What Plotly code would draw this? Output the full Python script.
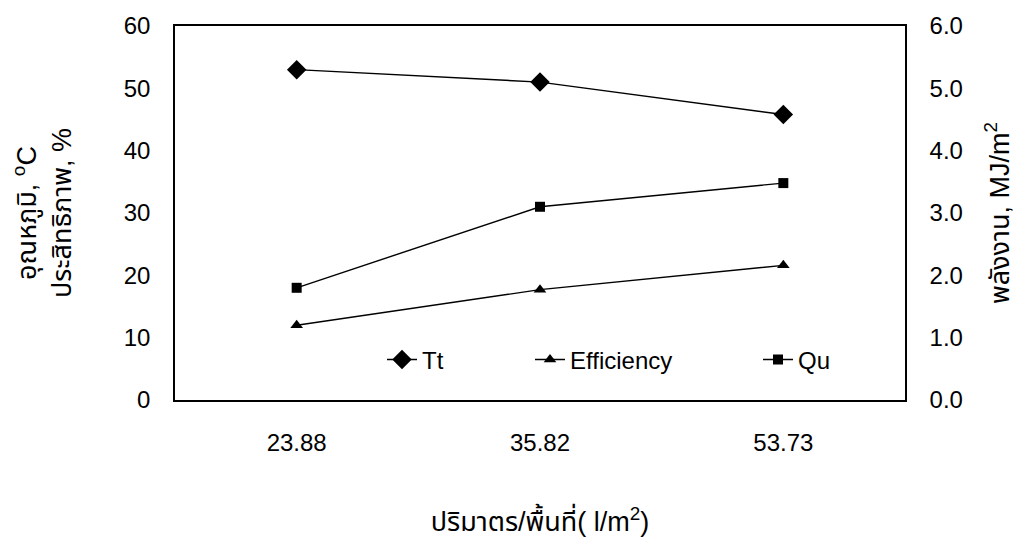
import plotly.graph_objects as go

categories = ["23.88", "35.82", "53.73"]
tt_values = [53.0, 51.0, 45.8]
eff_values = [12.0, 17.7, 21.6]
qu_values = [1.80, 3.10, 3.48]
left_ticks = [0, 10, 20, 30, 40, 50, 60]
right_ticks = [0, 1, 2, 3, 4, 5, 6]

FONT = "Liberation Sans, Arial, Noto Sans Thai, Noto Sans, sans-serif"
W, H = 1028, 544
L, R, T, B = 175, 905, 20, 403

fig = go.Figure()
fig.add_trace(go.Scatter(x=categories, y=tt_values, name="Tt", mode="lines+markers",
                         line=dict(color="black", width=1.4),
                         marker=dict(symbol="diamond", size=15, color="black"),
                         legend="legend"))
fig.add_trace(go.Scatter(x=categories, y=eff_values, name="Efficiency", mode="lines+markers",
                         line=dict(color="black", width=1.4),
                         marker=dict(symbol="triangle-up", size=11, color="black"),
                         legend="legend2"))
fig.add_trace(go.Scatter(x=categories, y=qu_values, name="Qu", mode="lines+markers",
                         line=dict(color="black", width=1.4),
                         marker=dict(symbol="square", size=10, color="black"),
                         yaxis="y2", legend="legend3"))

pw = R - L
ph = B - T
def px(x):
    return (x - L) / pw
def py(y):
    return (B - y) / ph

leg_common = dict(orientation="h", yanchor="middle", xanchor="left",
                  bgcolor="rgba(0,0,0,0)", font=dict(family=FONT, size=24, color="black"),
                  itemwidth=30)
fig.update_layout(
    width=W, height=H,
    margin=dict(l=L, r=W - R, t=T, b=H - B, pad=0),
    paper_bgcolor="white", plot_bgcolor="white",
    font=dict(family=FONT, size=24, color="black"),
    xaxis=dict(type="category", range=[-0.5, 2.5], showline=True, linecolor="black",
               linewidth=1.5, mirror=True, showgrid=False, ticks="",
               ticklabelstandoff=20,
               title=dict(text="ปริมาตร/พื้นที่( l/m<sup>2</sup>)", standoff=58,
                          font=dict(size=27))),
    yaxis=dict(range=[0, 60], tickvals=left_ticks, showline=True, linecolor="black",
               linewidth=1.5, showgrid=False, zeroline=False, ticks="",
               ticklabelstandoff=18,
               title=dict(text="อุณหภูมิ, <sup>o</sup>C<br>ประสิทธิภาพ, %", standoff=44,
                          font=dict(size=27))),
    yaxis2=dict(range=[0, 6], tickvals=right_ticks, tickformat=".1f", overlaying="y",
                side="right", showline=True, linecolor="black", linewidth=1.5,
                showgrid=False, zeroline=False, ticks="", ticklabelstandoff=18,
                title=dict(text="พลังงาน, MJ/m<sup>2</sup>", standoff=28,
                           font=dict(size=27))),
    showlegend=True,
    legend=dict(x=px(382), y=py(362), **leg_common),
    legend2=dict(x=px(530), y=py(362), **leg_common),
    legend3=dict(x=px(758), y=py(362), **leg_common),
)

fig.write_html("out.html")
